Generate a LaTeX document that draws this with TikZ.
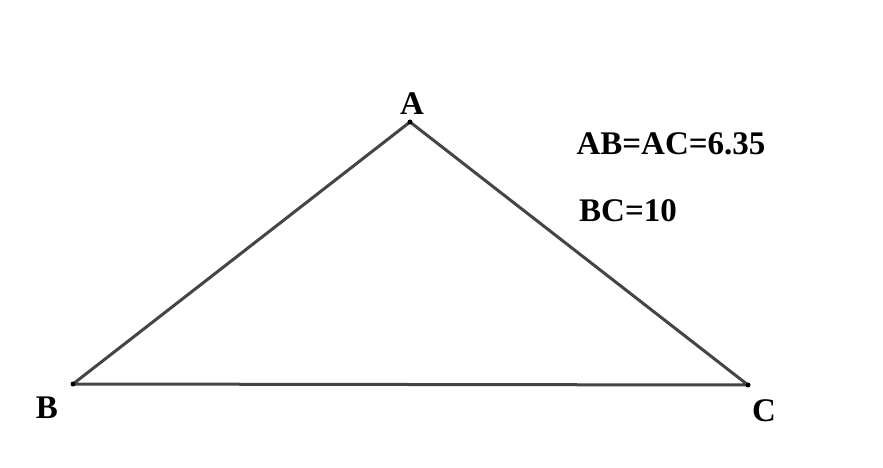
\documentclass[tikz,border=0pt]{standalone}
\usepackage{fontspec}
\setmainfont{Liberation Serif}
\definecolor{edgegray}{HTML}{454545}
\tikzset{x=1pt,y=-1pt,
  every node/.style={font=\bfseries\fontsize{33}{38}\selectfont,inner sep=0pt},
  edge/.style={draw=edgegray,line width=3pt,line join=round},
  vertex/.style={circle,fill=black,inner sep=0pt,minimum size=5pt}}
\begin{document}
\begin{tikzpicture}
\useasboundingbox(0,0)rectangle(883,468);
\coordinate(A)at(410,122);\coordinate(B)at(73,384);\coordinate(C)at(748,385);
\draw[edge](A)--(B)--(C)--cycle;
\foreach \p in {A,B,C}\node[vertex]at(\p){};
\node(lA)at(412,104){A};\node(lB)at(47,408){B};\node(lC)at(764,411){C};
\node(sides)at(671,144){AB=AC=6.35};
\node(base)at(628,211){BC=10};
\end{tikzpicture}
\end{document}
